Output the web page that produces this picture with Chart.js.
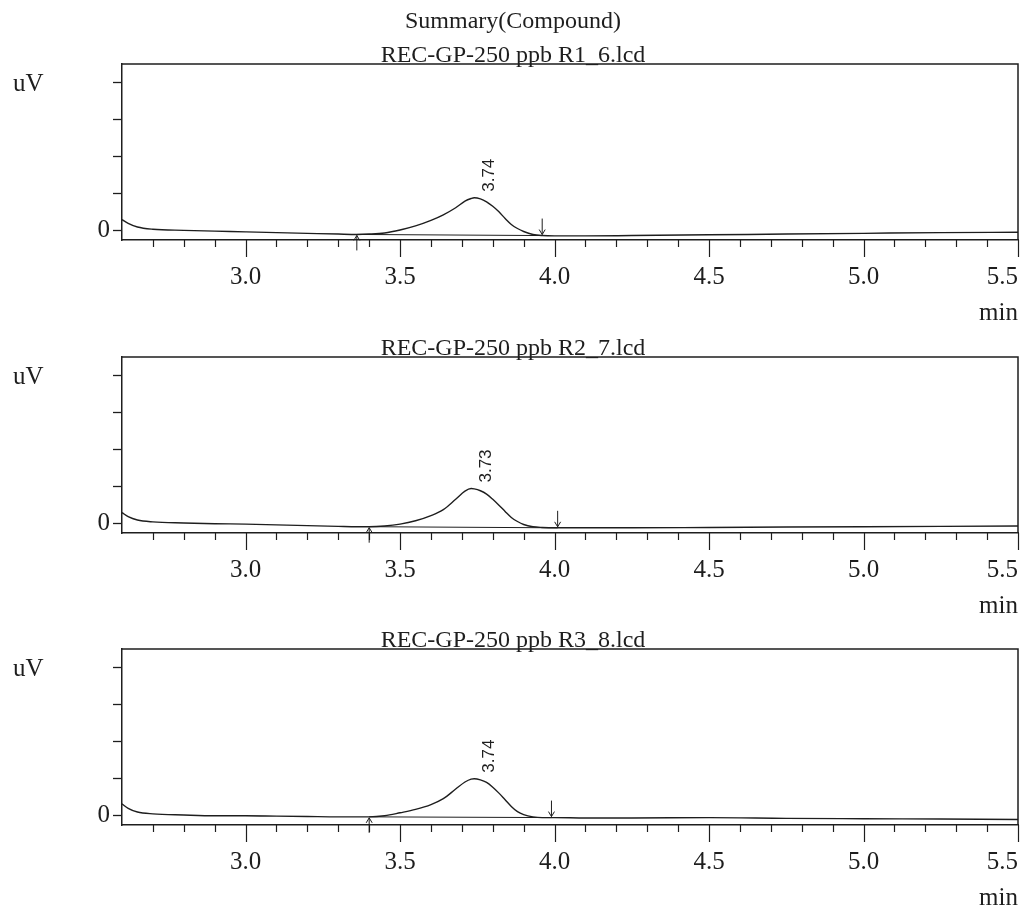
<!DOCTYPE html>
<html>
<head>
<meta charset="utf-8">
<title>Summary(Compound)</title>
<script src="https://cdn.jsdelivr.net/npm/chart.js@4.4.0/dist/chart.umd.min.js"></script>
<style>
  html, body { margin: 0; padding: 0; background: #fff; }
  body { width: 1026px; height: 909px; position: relative; overflow: hidden; }
  canvas { position: absolute; left: 0; }
</style>
</head>
<body>
<canvas id="run1" width="1026" height="330" style="top:0px"></canvas>
<canvas id="run2" width="1026" height="330" style="top:293px"></canvas>
<canvas id="run3" width="1026" height="330" style="top:585px"></canvas>
<script>
// retention time grid (min), shared by the three injections
const times = [
  2.60, 2.62, 2.65, 2.70, 2.80, 2.90, 3.00, 3.10, 3.20, 3.30, 3.36, 3.40, 3.45,
  3.50, 3.55, 3.60, 3.64, 3.68, 3.71, 3.73, 3.74, 3.76, 3.78, 3.80, 3.82, 3.84,
  3.86, 3.88, 3.90, 3.93, 3.96, 4.00, 4.10, 4.25, 4.50, 4.75, 5.00, 5.25, 5.50,
];

// detector signal (one y-tick division = 1)
const signalR1 = [
  0.30, 0.20, 0.10, 0.04, 0.01, -0.01, -0.03, -0.05, -0.07, -0.09, -0.10, -0.09, -0.06,
  0.02, 0.13, 0.28, 0.43, 0.62, 0.80, 0.87, 0.89, 0.86, 0.78, 0.66, 0.51, 0.33,
  0.17, 0.06, -0.02, -0.10, -0.13, -0.14, -0.14, -0.13, -0.11, -0.09, -0.07, -0.05, -0.04,
];
const signalR2 = [
  0.30, 0.19, 0.10, 0.05, 0.02, 0.00, -0.01, -0.03, -0.05, -0.07, -0.08, -0.08, -0.06,
  -0.01, 0.08, 0.22, 0.38, 0.66, 0.88, 0.95, 0.94, 0.89, 0.80, 0.66, 0.50, 0.33,
  0.17, 0.06, -0.02, -0.08, -0.10, -0.11, -0.11, -0.11, -0.10, -0.09, -0.08, -0.07, -0.06,
];
const signalR3 = [
  0.32, 0.20, 0.10, 0.05, 0.02, 0.00, 0.00, -0.01, -0.02, -0.03, -0.03, -0.03, 0.00,
  0.08, 0.17, 0.30, 0.46, 0.72, 0.91, 0.99, 1.00, 0.97, 0.90, 0.77, 0.61, 0.43,
  0.25, 0.11, 0.03, -0.03, -0.05, -0.05, -0.06, -0.06, -0.05, -0.07, -0.08, -0.09, -0.10,
];
const signals = [signalR1, signalR2, signalR3];

const runTitles = ["REC-GP-250 ppb R1_6.lcd", "REC-GP-250 ppb R2_7.lcd", "REC-GP-250 ppb R3_8.lcd"];
const peakTimes = [3.74, 3.73, 3.74];
// integration start / end (min) and the signal level there
const startTimes = [3.36, 3.40, 3.40];
const endTimes = [3.96, 4.01, 3.99];
const startLevels = [-0.10, -0.08, -0.03];
const endLevels = [-0.13, -0.11, -0.05];

const xTickLabels = ["3.0", "3.5", "4.0", "4.5", "5.0", "5.5"];
const xMinorStep = 0.1;
const yTickValues = [0, 1, 2, 3, 4];

const FONT = '"Liberation Serif", "Times New Roman", serif';
const INK = "#1e1e1e";

function arrow(ctx, px, yFrom, yTo) {
  const dir = yTo > yFrom ? -1 : 1;
  ctx.beginPath();
  ctx.moveTo(px, yFrom);
  ctx.lineTo(px, yTo);
  ctx.moveTo(px - 3, yTo + dir * 5);
  ctx.lineTo(px, yTo);
  ctx.lineTo(px + 3, yTo + dir * 5);
  ctx.stroke();
}

const chromDecor = {
  id: "chromDecor",
  afterDraw(chart, args, opts) {
    const { ctx, chartArea: a, scales: { x, y } } = chart;
    const run = opts.run;
    ctx.save();
    ctx.strokeStyle = INK;
    ctx.fillStyle = INK;

    // top and right side of the frame
    ctx.lineWidth = 1.5;
    ctx.beginPath();
    ctx.moveTo(a.left, a.top);
    ctx.lineTo(a.right, a.top);
    ctx.lineTo(a.right, a.bottom);
    ctx.stroke();

    // time axis ticks, long every 0.5 min
    ctx.lineWidth = 1.2;
    const n = Math.round((x.max - x.min) / xMinorStep);
    for (let i = 1; i <= n; i++) {
      const t = x.min + i * xMinorStep;
      const px = Math.round(x.getPixelForValue(t)) + 0.5;
      const major = Math.abs(t * 2 - Math.round(t * 2)) < 1e-6;
      ctx.beginPath();
      ctx.moveTo(px, a.bottom);
      ctx.lineTo(px, a.bottom + (major ? 17 : 7));
      ctx.stroke();
    }

    ctx.font = "25px " + FONT;
    ctx.textBaseline = "alphabetic";
    xTickLabels.forEach((label, i) => {
      const last = i === xTickLabels.length - 1;
      ctx.textAlign = last ? "right" : "center";
      const px = x.getPixelForValue(parseFloat(label));
      ctx.fillText(label, last ? a.right : px, a.bottom + 44);
    });
    ctx.textAlign = "right";
    ctx.fillText("min", a.right, a.bottom + 80);
    ctx.textAlign = "left";
    ctx.fillText("uV", 13, a.top + 27);

    // titles above the frame
    ctx.font = "24px " + FONT;
    ctx.textAlign = "center";
    const lines = opts.titleLines;
    lines.forEach((line, i) => {
      ctx.fillText(line, chart.width / 2, a.top - 2 - (lines.length - 1 - i) * 34);
    });

    // integration baseline markers
    ctx.lineWidth = 1;
    const sx = x.getPixelForValue(startTimes[run]);
    const sy = y.getPixelForValue(startLevels[run]);
    arrow(ctx, sx, sy + 16, sy + 1);
    const ex = x.getPixelForValue(endTimes[run]);
    const ey = y.getPixelForValue(endLevels[run]);
    arrow(ctx, ex, ey - 17, ey - 1);

    // retention time label, rotated
    const k = times.findIndex((t) => Math.abs(t - peakTimes[run]) < 1e-6);
    const px = x.getPixelForValue(times[k]);
    const py = y.getPixelForValue(signals[run][k]);
    ctx.translate(px + 20, py - 6);
    ctx.rotate(-Math.PI / 2);
    ctx.font = '17px "Liberation Sans", Arial, sans-serif';
    ctx.textAlign = "left";
    ctx.fillText(peakTimes[run].toFixed(2), 0, 0);
    ctx.restore();
  },
};

function drawRun(canvasId, run, titleLines) {
  const trace = times.map((t, i) => ({ x: t, y: signals[run][i] }));
  const baseline = [
    { x: startTimes[run], y: startLevels[run] },
    { x: endTimes[run], y: endLevels[run] },
  ];
  return new Chart(document.getElementById(canvasId), {
    type: "line",
    data: {
      datasets: [
        {
          data: trace,
          borderColor: INK,
          borderWidth: 1.4,
          pointRadius: 0,
          cubicInterpolationMode: "monotone",
        },
        {
          data: baseline,
          borderColor: INK,
          borderWidth: 1,
          pointRadius: 0,
        },
      ],
    },
    options: {
      responsive: false,
      animation: false,
      events: [],
      layout: { padding: { top: 64, right: 8, left: 0, bottom: 0 } },
      scales: {
        x: {
          type: "linear",
          min: 2.6,
          max: 5.5,
          grid: { display: false },
          ticks: { display: false },
          border: { color: INK, width: 1.5 },
          afterFit: (scale) => { scale.height = 90; },
        },
        y: {
          min: -0.25,
          max: 4.5,
          afterBuildTicks: (scale) => {
            scale.ticks = yTickValues.map((v) => ({ value: v }));
          },
          ticks: {
            includeBounds: false,
            padding: 3,
            color: INK,
            font: { family: FONT, size: 25 },
            callback: (v) => (v === 0 ? "0" : ""),
          },
          grid: {
            drawOnChartArea: false,
            tickLength: 9,
            color: INK,
            tickWidth: 1.3,
          },
          border: { color: INK, width: 1.5 },
          afterFit: (scale) => { scale.width = 122; },
        },
      },
      plugins: {
        legend: { display: false },
        tooltip: { enabled: false },
        chromDecor: { run: run, titleLines: titleLines },
      },
    },
    plugins: [chromDecor],
  });
}

drawRun("run1", 0, ["Summary(Compound)", runTitles[0]]);
drawRun("run2", 1, [runTitles[1]]);
drawRun("run3", 2, [runTitles[2]]);
</script>
</body>
</html>
